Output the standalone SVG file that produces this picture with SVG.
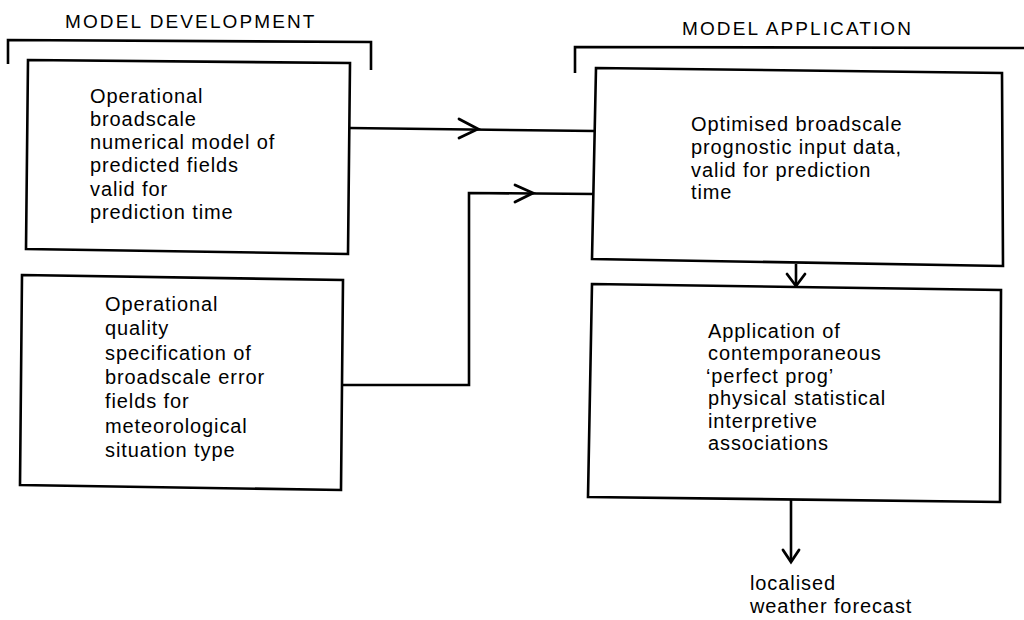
<svg xmlns="http://www.w3.org/2000/svg" width="1024" height="620" viewBox="0 0 1024 620">
  <style>
    .frame { fill: #fff; stroke: #000; stroke-width: 2.6; stroke-linejoin: miter; }
    .bracket { fill: none; stroke: #000; stroke-width: 2.6; }
    .line { fill: none; stroke: #000; stroke-width: 2.6; }
    .head { fill: none; stroke: #000; stroke-width: 2.8; stroke-linecap: round; stroke-linejoin: miter; }
    .hdr { font-family: "Liberation Sans", Arial, sans-serif; font-size: 19px; letter-spacing: 2.1px; fill: #000; }
    .lbl { font-family: "Liberation Sans", Arial, sans-serif; font-size: 20px; letter-spacing: 0.9px; fill: #000; }
  </style>
  <rect width="1024" height="620" fill="#fff"/>

  <!-- section headings with brackets -->
  <g id="heading-development">
    <text class="hdr" x="65" y="28">MODEL DEVELOPMENT</text>
    <path class="bracket" d="M8,64 L8,40 L371,42 L371,70"/>
  </g>
  <g id="heading-application">
    <text class="hdr" x="682" y="35">MODEL APPLICATION</text>
    <path class="bracket" d="M575,73 L575,47 L1026,48"/>
  </g>

  <!-- connectors -->
  <g id="connectors">
    <path class="line" d="M349,128 L595,131"/>
    <path class="head" d="M459,119 L478,129 L459,138"/>
    <path class="line" d="M342,385 L469,385 L469,193 L595,194"/>
    <path class="head" d="M515,185 L533,193 L515,202"/>
    <path class="line" d="M796,264 L796,286"/>
    <path class="head" d="M787,274 L796,286 L805,274"/>
    <path class="line" d="M791,500 L791,562"/>
    <path class="head" d="M783,550 L791,562 L799,550"/>
  </g>

  <g id="node-numerical-model">
    <path class="frame" d="M28,60 L350,63 L348,254 L26,249 Z"/>
    <text class="lbl" x="90">
      <tspan x="90" y="103">Operational</tspan>
      <tspan x="90" y="126">broadscale</tspan>
      <tspan x="90" y="149">numerical model of</tspan>
      <tspan x="90" y="172">predicted fields</tspan>
      <tspan x="90" y="196">valid for</tspan>
      <tspan x="90" y="219">prediction time</tspan>
    </text>
  </g>

  <g id="node-error-fields">
    <path class="frame" d="M22,275 L343,280 L341,490 L20,485 Z"/>
    <text class="lbl" x="105">
      <tspan x="105" y="311">Operational</tspan>
      <tspan x="105" y="335">quality</tspan>
      <tspan x="105" y="360">specification of</tspan>
      <tspan x="105" y="384">broadscale error</tspan>
      <tspan x="105" y="408">fields for</tspan>
      <tspan x="105" y="433">meteorological</tspan>
      <tspan x="105" y="457">situation type</tspan>
    </text>
  </g>

  <g id="node-input-data">
    <path class="frame" d="M596,68 L1002,73 L1003,266 L592,259 Z"/>
    <text class="lbl" x="691">
      <tspan x="691" y="131">Optimised broadscale</tspan>
      <tspan x="691" y="154">prognostic input data,</tspan>
      <tspan x="691" y="177">valid for prediction</tspan>
      <tspan x="691" y="199">time</tspan>
    </text>
  </g>

  <g id="node-interpretive">
    <path class="frame" d="M592,284 L1001,290 L1000,502 L588,497 Z"/>
    <text class="lbl" x="708">
      <tspan x="708" y="338">Application of</tspan>
      <tspan x="708" y="360">contemporaneous</tspan>
      <tspan x="706" y="383">‘perfect prog’</tspan>
      <tspan x="708" y="405">physical statistical</tspan>
      <tspan x="708" y="428">interpretive</tspan>
      <tspan x="708" y="450">associations</tspan>
    </text>
  </g>

  <g id="node-forecast">
    <text class="lbl" x="750">
      <tspan x="750" y="590">localised</tspan>
      <tspan x="750" y="613">weather forecast</tspan>
    </text>
  </g>
</svg>
